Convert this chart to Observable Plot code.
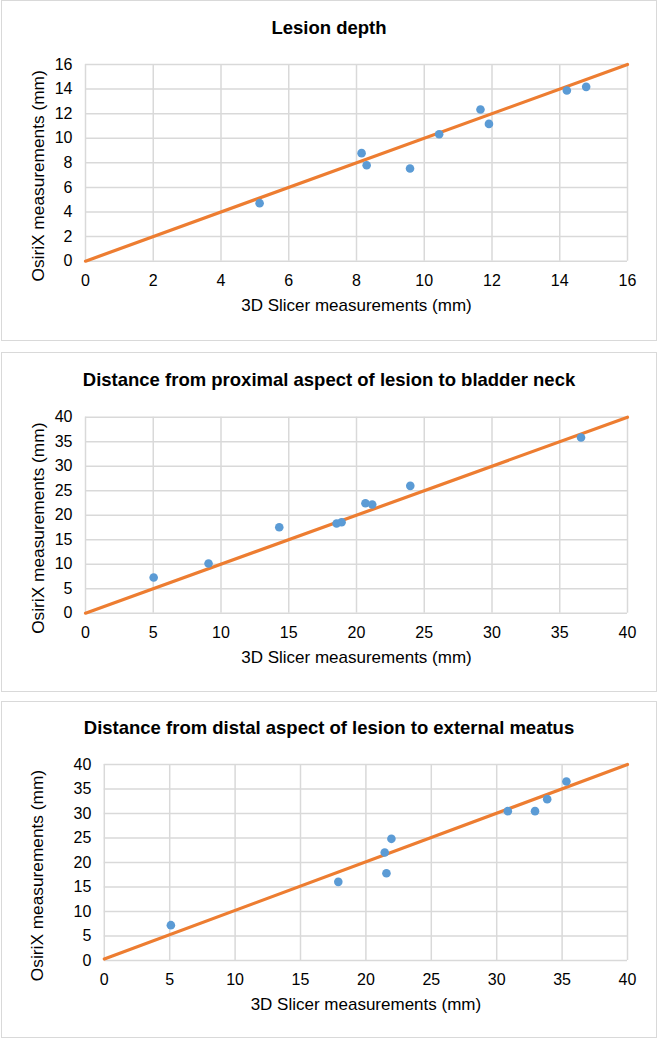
<!DOCTYPE html>
<html><head><meta charset="utf-8">
<script src="https://cdn.jsdelivr.net/npm/d3@7"></script>
<script src="https://cdn.jsdelivr.net/npm/@observablehq/plot@0.6"></script>
<style>
body{margin:0;background:#fff;font-family:"Liberation Sans",Arial,sans-serif;}
.panel{position:absolute;left:1px;width:656px;box-sizing:border-box;border:1px solid #d9d9d9;background:#fff;}
.title{position:absolute;left:0;width:654px;text-align:center;font-weight:bold;font-size:18.5px;line-height:20px;color:#000;}
.panel svg{position:absolute;left:0;top:0;}
</style></head><body>
<script>
// ---- data ----
const titles = [
  "Lesion depth",
  "Distance from proximal aspect of lesion to bladder neck",
  "Distance from distal aspect of lesion to external meatus"
];
const xAxisLabel = "3D Slicer measurements (mm)";
const yAxisLabel = "OsiriX measurements (mm)";

const depthSlicer = [5.14, 8.15, 8.30, 9.58, 10.44, 11.66, 11.91, 14.21, 14.78];
const depthOsirix = [4.72, 8.79, 7.81, 7.54, 10.33, 12.34, 11.17, 13.89, 14.18];
const depthTicks = [0, 2, 4, 6, 8, 10, 12, 14, 16];
const depthLineX = [0, 16];
const depthLineY = [0, 16];

const proxSlicer = [5.03, 9.08, 14.3, 18.53, 18.9, 20.66, 21.16, 23.97, 36.57];
const proxOsirix = [7.28, 10.14, 17.55, 18.3, 18.57, 22.45, 22.18, 25.99, 35.85];
const proxTicks = [0, 5, 10, 15, 20, 25, 30, 35, 40];
const proxLineX = [0, 40];
const proxLineY = [0, 40];

const distSlicer = [5.09, 17.89, 21.44, 21.57, 21.95, 30.85, 32.93, 33.86, 35.33];
const distOsirix = [7.21, 16.05, 22.04, 17.82, 24.83, 30.48, 30.48, 32.93, 36.53];
const distTicks = [0, 5, 10, 15, 20, 25, 30, 35, 40];
const distLineX = [0, 40];
const distLineY = [0.3, 40];

// ---- layout ----
const panels = [
  {top: 0,   h: 341, titleTop: 16.9, xs: depthSlicer, ys: depthOsirix, ticks: depthTicks, lx: depthLineX, ly: depthLineY, ml: 83,    mt: 63,   mb: 79.3, ydx: -47},
  {top: 352, h: 340, titleTop: 17.3, xs: proxSlicer,  ys: proxOsirix,  ticks: proxTicks,  lx: proxLineX,  ly: proxLineY,  ml: 83,    mt: 63.7, mb: 78.3, ydx: -47},
  {top: 701, h: 337, titleTop: 15.9, xs: distSlicer,  ys: distOsirix,  ticks: distTicks,  lx: distLineX,  ly: distLineY,  ml: 101.8, mt: 62,   mb: 77,   ydx: -66.5}
];

const FONT = '"Liberation Sans", Arial, sans-serif';
const gridStyle = {stroke: "#d9d9d9", strokeOpacity: 1, strokeWidth: 1.5};

panels.forEach((p, i) => {
  const div = document.createElement("div");
  div.className = "panel";
  div.style.top = p.top + "px";
  div.style.height = p.h + "px";
  const t = document.createElement("div");
  t.className = "title";
  t.style.top = p.titleTop + "px";
  t.textContent = titles[i];
  div.appendChild(t);

  const pts = p.xs.map((x, k) => ({x, y: p.ys[k]}));
  const line = p.lx.map((x, k) => ({x, y: p.ly[k]}));
  const max = p.ticks[p.ticks.length - 1];
  const svg = Plot.plot({
    width: 654,
    height: p.h - 2,
    marginLeft: p.ml,
    marginRight: 29,
    marginTop: p.mt,
    marginBottom: p.mb,
    style: {fontFamily: FONT, fontSize: "16px", color: "#000", background: "transparent"},
    x: {domain: [0, max], axis: null},
    y: {domain: [0, max], axis: null},
    marks: [
      Plot.gridX(p.ticks, gridStyle),
      Plot.gridY(p.ticks, gridStyle),
      Plot.axisX(p.ticks, {tickSize: 0, tickPadding: 13, label: null, fontSize: 16}),
      Plot.axisY(p.ticks, {tickSize: 0, tickPadding: 13, label: null, fontSize: 16}),
      Plot.line(line, {x: "x", y: "y", stroke: "#ED7D31", strokeWidth: 3.2}),
      Plot.dot(pts, {x: "x", y: "y", r: 4.3, fill: "#5B9BD5", stroke: "none"}),
      Plot.text([xAxisLabel], {frameAnchor: "bottom", textAnchor: "middle", lineAnchor: "middle", dy: 44, fontSize: 17, fill: "#000"}),
      Plot.text([yAxisLabel], {frameAnchor: "left", textAnchor: "middle", lineAnchor: "middle", dx: p.ydx, dy: 13, rotate: -90, fontSize: 17.3, fill: "#000"})
    ]
  });
  div.appendChild(svg);
  document.body.appendChild(div);
});
</script>
</body></html>
